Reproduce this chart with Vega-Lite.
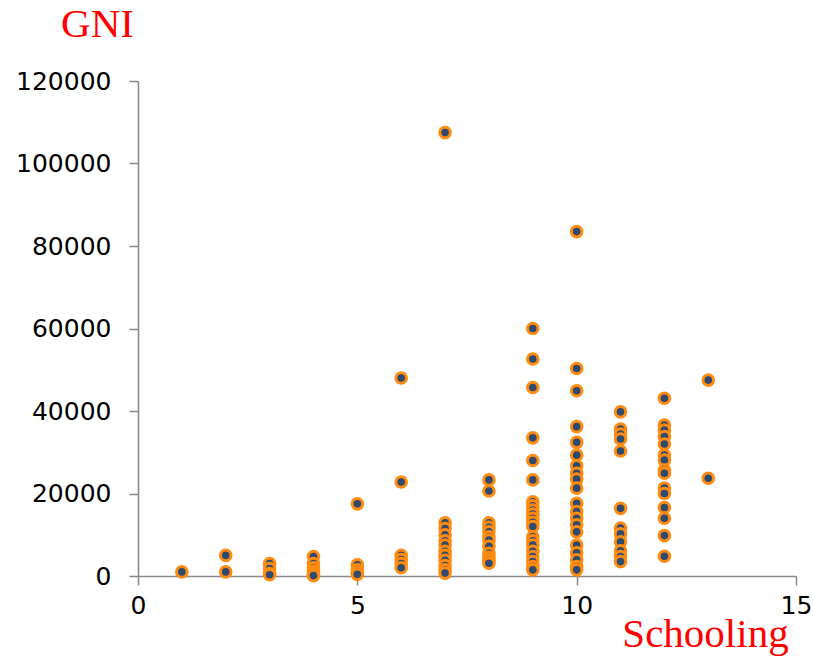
{
  "$schema": "https://vega.github.io/schema/vega-lite/v6.json",
  "width": 658,
  "height": 495,
  "autosize": {"type": "none"},
  "padding": {"left": 138, "top": 81, "right": 17, "bottom": 81},
  "background": "white",
  "config": {"view": {"stroke": null}},
  "data": {
    "values": [
      {"schooling": 1, "gni": 1000},
      {"schooling": 2, "gni": 5000}, {"schooling": 2, "gni": 1000},
      {"schooling": 3, "gni": 3000}, {"schooling": 3, "gni": 1800}, {"schooling": 3, "gni": 600}, {"schooling": 3, "gni": 300},
      {"schooling": 4, "gni": 4700}, {"schooling": 4, "gni": 3000}, {"schooling": 4, "gni": 2000}, {"schooling": 4, "gni": 1200}, {"schooling": 4, "gni": 600}, {"schooling": 4, "gni": 300}, {"schooling": 4, "gni": 100},
      {"schooling": 5, "gni": 17500}, {"schooling": 5, "gni": 2700}, {"schooling": 5, "gni": 1500}, {"schooling": 5, "gni": 800}, {"schooling": 5, "gni": 400},
      {"schooling": 6, "gni": 48000}, {"schooling": 6, "gni": 22800}, {"schooling": 6, "gni": 5000}, {"schooling": 6, "gni": 4000}, {"schooling": 6, "gni": 3000}, {"schooling": 6, "gni": 2000},
      {"schooling": 7, "gni": 107500}, {"schooling": 7, "gni": 12900}, {"schooling": 7, "gni": 11500}, {"schooling": 7, "gni": 10000}, {"schooling": 7, "gni": 8500}, {"schooling": 7, "gni": 7500}, {"schooling": 7, "gni": 6000}, {"schooling": 7, "gni": 5000}, {"schooling": 7, "gni": 3800}, {"schooling": 7, "gni": 2500}, {"schooling": 7, "gni": 1500}, {"schooling": 7, "gni": 700},
      {"schooling": 8, "gni": 23300}, {"schooling": 8, "gni": 20600}, {"schooling": 8, "gni": 12900}, {"schooling": 8, "gni": 11800}, {"schooling": 8, "gni": 10700}, {"schooling": 8, "gni": 9500}, {"schooling": 8, "gni": 8700}, {"schooling": 8, "gni": 7200}, {"schooling": 8, "gni": 5500}, {"schooling": 8, "gni": 4500}, {"schooling": 8, "gni": 3800}, {"schooling": 8, "gni": 3100},
      {"schooling": 9, "gni": 60000}, {"schooling": 9, "gni": 52600}, {"schooling": 9, "gni": 45700}, {"schooling": 9, "gni": 33500}, {"schooling": 9, "gni": 28000}, {"schooling": 9, "gni": 23300}, {"schooling": 9, "gni": 18000}, {"schooling": 9, "gni": 17000}, {"schooling": 9, "gni": 16000}, {"schooling": 9, "gni": 15000}, {"schooling": 9, "gni": 14000}, {"schooling": 9, "gni": 13000}, {"schooling": 9, "gni": 12000}, {"schooling": 9, "gni": 9500}, {"schooling": 9, "gni": 8500}, {"schooling": 9, "gni": 7500}, {"schooling": 9, "gni": 6000}, {"schooling": 9, "gni": 4700}, {"schooling": 9, "gni": 3500}, {"schooling": 9, "gni": 2300}, {"schooling": 9, "gni": 1500},
      {"schooling": 10, "gni": 83500}, {"schooling": 10, "gni": 50300}, {"schooling": 10, "gni": 44900}, {"schooling": 10, "gni": 36200}, {"schooling": 10, "gni": 32400}, {"schooling": 10, "gni": 29300}, {"schooling": 10, "gni": 26700}, {"schooling": 10, "gni": 24900}, {"schooling": 10, "gni": 23500}, {"schooling": 10, "gni": 21300}, {"schooling": 10, "gni": 17600}, {"schooling": 10, "gni": 15600}, {"schooling": 10, "gni": 14000}, {"schooling": 10, "gni": 12400}, {"schooling": 10, "gni": 10700}, {"schooling": 10, "gni": 7500}, {"schooling": 10, "gni": 5600}, {"schooling": 10, "gni": 3900}, {"schooling": 10, "gni": 2300}, {"schooling": 10, "gni": 1500},
      {"schooling": 11, "gni": 39800}, {"schooling": 11, "gni": 35600}, {"schooling": 11, "gni": 34400}, {"schooling": 11, "gni": 33200}, {"schooling": 11, "gni": 30300}, {"schooling": 11, "gni": 16400}, {"schooling": 11, "gni": 11600}, {"schooling": 11, "gni": 10200}, {"schooling": 11, "gni": 8300}, {"schooling": 11, "gni": 6100}, {"schooling": 11, "gni": 4700}, {"schooling": 11, "gni": 3500},
      {"schooling": 12, "gni": 43100}, {"schooling": 12, "gni": 36600}, {"schooling": 12, "gni": 35400}, {"schooling": 12, "gni": 33800}, {"schooling": 12, "gni": 32000}, {"schooling": 12, "gni": 29300}, {"schooling": 12, "gni": 28100}, {"schooling": 12, "gni": 25700}, {"schooling": 12, "gni": 24900}, {"schooling": 12, "gni": 21300}, {"schooling": 12, "gni": 20000}, {"schooling": 12, "gni": 16600}, {"schooling": 12, "gni": 14000}, {"schooling": 12, "gni": 9800}, {"schooling": 12, "gni": 4800},
      {"schooling": 13, "gni": 47500}, {"schooling": 13, "gni": 23700}
    ]
  },
  "mark": {"type": "point", "filled": true, "fill": "#2E4A6E", "stroke": "#FF8C10", "strokeWidth": 3, "size": 113, "opacity": 1},
  "encoding": {
    "x": {
      "field": "schooling", "type": "quantitative",
      "scale": {"domain": [0, 15], "nice": false, "zero": true},
      "axis": {
        "title": "Schooling", "values": [0, 5, 10, 15], "grid": false, "labelFlush": false,
        "domainColor": "#888888", "tickColor": "#888888", "tickSize": 9, "domainWidth": 1.5, "tickWidth": 1.5,
        "labelFont": "DejaVu Sans", "labelFontSize": 25, "labelColor": "#000000", "labelPadding": 8,
        "titleFont": "Liberation Serif", "titleFontSize": 41, "titleFontWeight": "normal", "titleColor": "#FF0000",
        "titleX": 567, "titleY": 58, "titleAlign": "center", "titleBaseline": "middle"
      }
    },
    "y": {
      "field": "gni", "type": "quantitative",
      "scale": {"domain": [0, 120000], "nice": false},
      "axis": {
        "title": "GNI", "values": [0, 20000, 40000, 60000, 80000, 100000, 120000], "grid": false, "format": "d", "labelFlush": false,
        "domainColor": "#888888", "tickColor": "#888888", "tickSize": 9, "domainWidth": 1.5, "tickWidth": 1.5,
        "labelFont": "DejaVu Sans", "labelFontSize": 25, "labelColor": "#000000", "labelPadding": 18,
        "titleFont": "Liberation Serif", "titleFontSize": 41, "titleFontWeight": "normal", "titleColor": "#FF0000",
        "titleAngle": 0, "titleX": -41, "titleY": -57, "titleAlign": "center", "titleBaseline": "middle"
      }
    }
  }
}
